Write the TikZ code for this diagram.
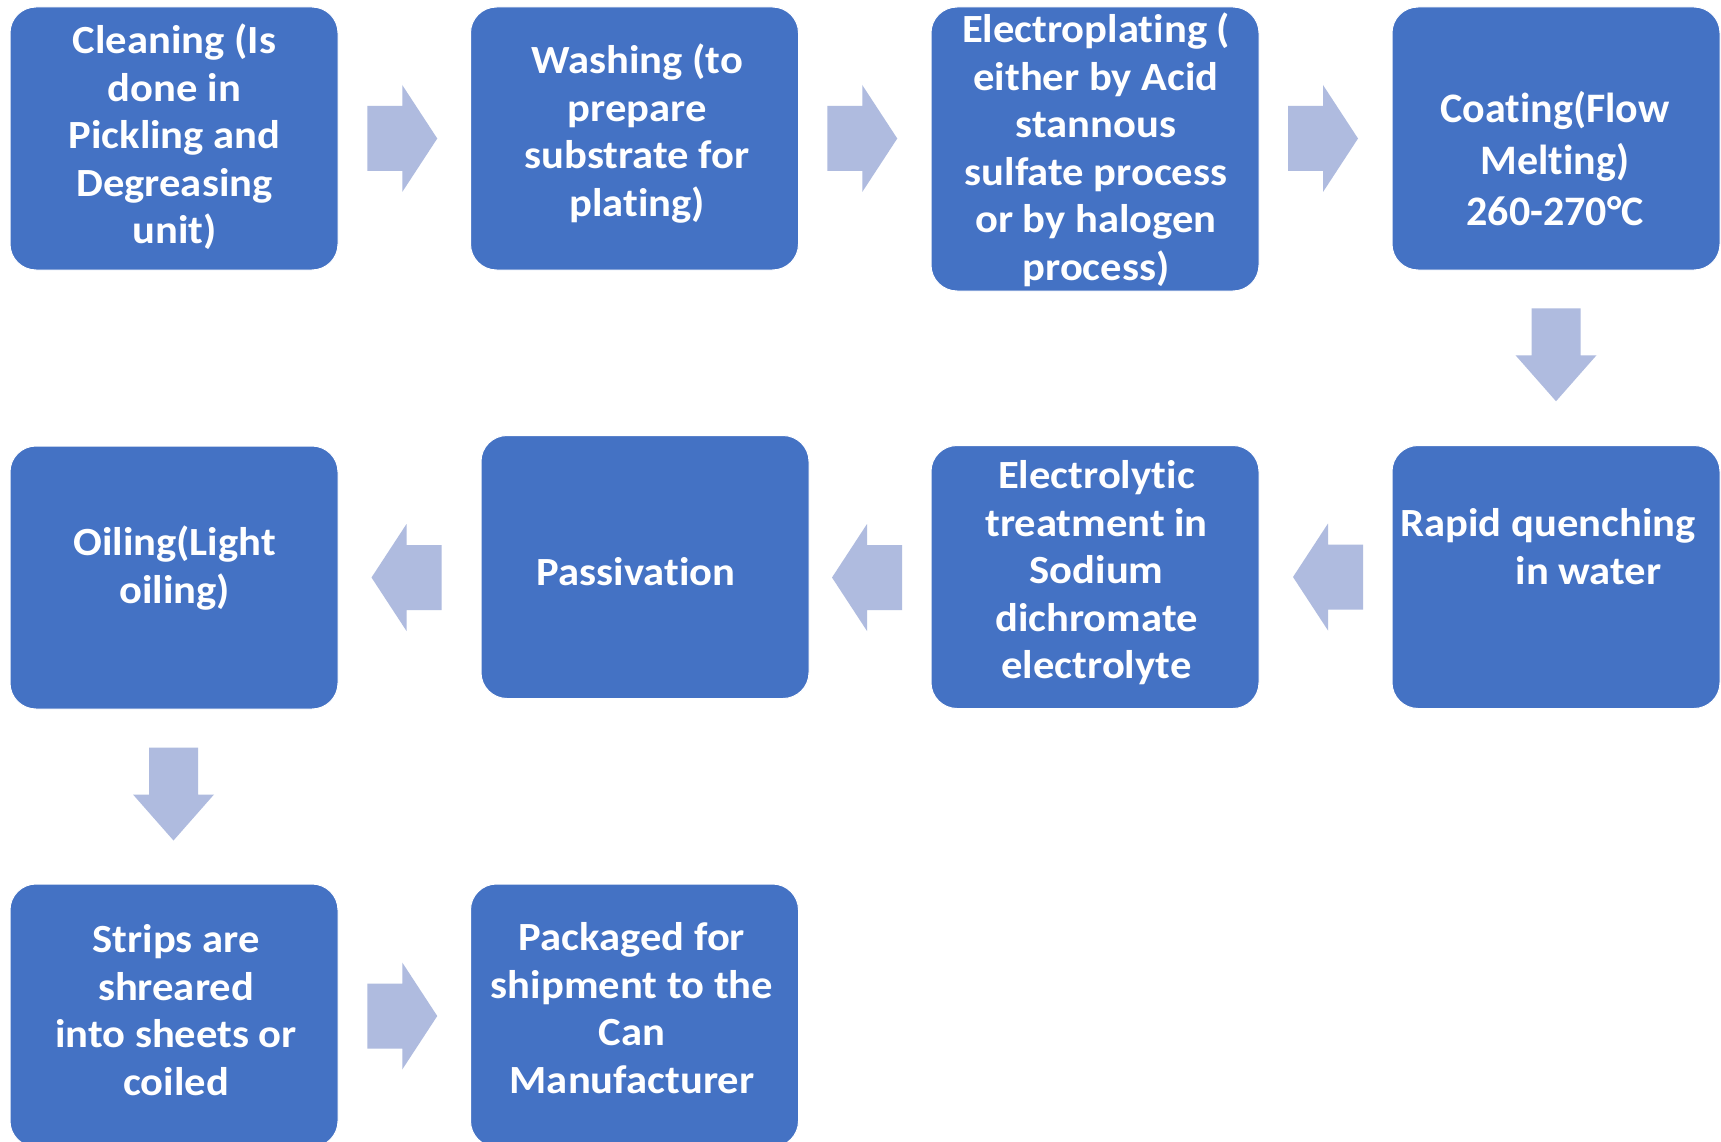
\documentclass[tikz,border=0pt]{standalone}
\usepackage{fontspec}
\setmainfont{Carlito}[FakeStretch=1.065, Ligatures=NoCommon]
\newfontfamily\boxfourfont{Carlito}[Ligatures=NoCommon]
\usetikzlibrary{calc}
\definecolor{boxblue}{RGB}{68,114,196}
\definecolor{arrowfill}{RGB}{175,187,223}
\tikzset{
  stepbox/.style={fill=boxblue, draw=white, line width=1pt, rounded corners=26pt,
    minimum width=328pt, minimum height=263pt, inner sep=0pt},
  txt/.style={text=white, align=center, inner sep=0pt,
    font={\fontsize{40pt}{47.5pt}\selectfont\bfseries}},
  bigtxt/.style={txt, font={\boxfourfont\fontsize{42pt}{51.5pt}\selectfont\bfseries}},
  blockright/.pic={\fill[arrowfill] (-35,-32.5) -- (0,-32.5) -- (0,-53.5) -- (35,0) -- (0,53.5) -- (0,32.5) -- (-35,32.5) -- cycle;},
  blockleft/.pic={\fill[arrowfill] (35,-32.5) -- (0,-32.5) -- (0,-53.5) -- (-35,0) -- (0,53.5) -- (0,32.5) -- (35,32.5) -- cycle;},
  blockdown/.pic={\fill[arrowfill] (-24.5,-46.5) -- (24.5,-46.5) -- (24.5,0.5) -- (40.5,0.5) -- (0,46.5) -- (-40.5,0.5) -- (-24.5,0.5) -- cycle;}
}
\begin{document}
\begin{tikzpicture}[x=1pt,y=-1pt]
\useasboundingbox (0,0) rectangle (1721,1142);
\clip (0,0) rectangle (1721,1142);
\fill[white] (0,0) rectangle (1721,1142);
% boxes
\node[stepbox] (b1) at (174,138.5) {};
\node[stepbox] (b2) at (634.5,138.5) {};
\node[stepbox, minimum height=284pt] (b3) at (1095,149) {};
\node[stepbox] (b4) at (1556,138.5) {};
\node[stepbox] (b5) at (1556,577) {};
\node[stepbox] (b6) at (1095,577) {};
\node[stepbox] (b7) at (645,567) {};
\node[stepbox] (b8) at (174,577.5) {};
\node[stepbox] (b9) at (174,1015.5) {};
\node[stepbox] (b10) at (634.5,1015.5) {};
% texts
\node[txt] (t1) at (174.5,137) {Cleaning (Is\\done in\\Pickling and\\Degreasing\\unit)};
\node[txt] (t2) at (637,133.5) {Washing (to\\prepare\\substrate for\\plating)};
\node[txt] (t3) at (1096,150) {Electroplating (\\either by Acid\\stannous\\sulfate process\\or by halogen\\process)};
\node[bigtxt] (t4) at (1555,159) {Coating(Flow\\Melting)\\260-270°C};
\node[txt] (t5) at (1548,546.5) {Rapid quenching\\\hspace*{81pt}in water};
\node[txt] (t6) at (1096.5,573) {Electrolytic\\treatment in\\Sodium\\dichromate\\electrolyte};
\node[txt] (t7) at (636,572) {Passivation};
\node[txt] (t8) at (174.5,568) {Oiling(Light\\oiling)};
\node[txt] (t9) at (176,1010) {Strips are\\shreared\\into sheets or\\coiled};
\node[txt] (t10) at (632,1008) {Packaged for\\shipment to the\\Can\\Manufacturer};
% block arrows between steps
\coordinate (r1) at ($(b1.east)!0.5!(b2.west)+(-2,0)$);
\coordinate (r2) at ($(b2.east)!0.5!(b3.west|-b2.east)+(-2.5,0)$);
\coordinate (r3) at ($(b3.east|-b4.west)!0.5!(b4.west)+(-2.5,0)$);
\coordinate (d1) at ($(b4.south)!0.5!(b5.north)+(0,-3)$);
\coordinate (l1) at ($(b6.east)!0.5!(b5.west)+(2.5,0)$);
\coordinate (l2) at (867,577.5);
\coordinate (l3) at (406.5,577.5);
\coordinate (d2) at ($(b8.south)!0.5!(b9.north)+(-0.5,-2.5)$);
\coordinate (r4) at ($(b9.east)!0.5!(b10.west)+(-2,0.5)$);
\pic at (r1) {blockright};
\pic at (r2) {blockright};
\pic at (r3) {blockright};
\pic at (d1) {blockdown};
\pic at (l1) {blockleft};
\pic at (l2) {blockleft};
\pic at (l3) {blockleft};
\pic at (d2) {blockdown};
\pic at (r4) {blockright};
\end{tikzpicture}
\end{document}
